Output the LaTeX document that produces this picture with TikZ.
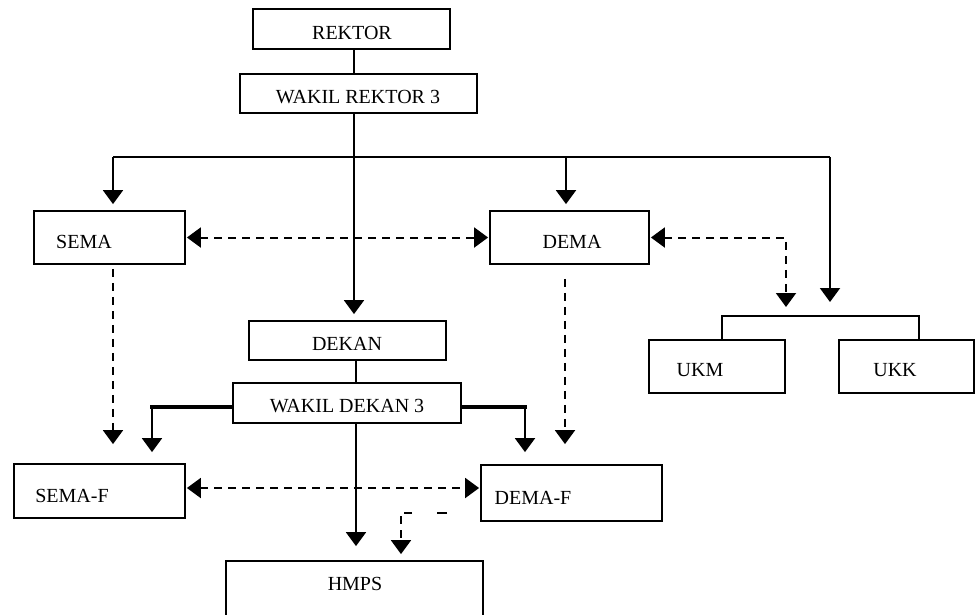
\documentclass[tikz,border=0pt]{standalone}
\usepackage{fontspec}
\setmainfont{Liberation Serif}
\usetikzlibrary{arrows.meta}
\begin{document}
\begin{tikzpicture}[x=1pt,y=-1pt,
  box/.style={draw, line width=1.8pt, inner sep=0pt},
  lbl/.style={inner sep=0pt, font=\fontsize{20}{23}\selectfont},
  conn/.style={line width=2pt},
  arr/.style={conn, -{Triangle[width=20pt,length=14pt]}},
  darr/.style={conn, dash pattern=on 8pt off 6pt},
  darrone/.style={darr, -{Triangle[width=20pt,length=14pt]}},
  darrtwo/.style={darr, {Triangle[width=20pt,length=14pt]}-{Triangle[width=20pt,length=14pt]}},
  thk/.style={line width=4pt, line cap=rect}]
\useasboundingbox (0,0) rectangle (975,614);

% boxes
\node[box, minimum width=197pt, minimum height=40pt] (rektor) at (351.5,29) {};
\node[box, minimum width=237pt, minimum height=39pt] (wr3) at (358.5,93.5) {};
\node[box, minimum width=151pt, minimum height=53pt] (sema) at (109.5,237.5) {};
\node[box, minimum width=159pt, minimum height=53pt] (dema) at (569.5,237.5) {};
\node[box, minimum width=136pt, minimum height=53pt] (ukm) at (717,366.5) {};
\node[box, minimum width=135pt, minimum height=53pt] (ukk) at (906.5,366.5) {};
\node[box, minimum width=197pt, minimum height=39pt] (dekan) at (347.5,340.5) {};
\node[box, minimum width=228pt, minimum height=40pt] (wd3) at (347,403) {};
\node[box, minimum width=171pt, minimum height=54pt] (semaf) at (99.5,491) {};
\node[box, minimum width=181pt, minimum height=56pt] (demaf) at (571.5,493) {};
\node[box, minimum width=257pt, minimum height=64pt] (hmps) at (354.5,593) {};

% texts
\node[lbl] (rektorT) at (352,33) {REKTOR};
\node[lbl] (wr3T) at (358,97.5) {WAKIL REKTOR 3};
\node[lbl] (semaT) at (84,242) {SEMA};
\node[lbl] (demaT) at (572,241.5) {DEMA};
\node[lbl] (ukmT) at (700,370.5) {UKM};
\node[lbl] (ukkT) at (895,370.5) {UKK};
\node[lbl] (dekanT) at (347,343.5) {DEKAN};
\node[lbl] (wd3T) at (347,406.5) {WAKIL DEKAN 3};
\node[lbl] (semafT) at (72,495.5) {SEMA-F};
\node[lbl] (demafT) at (533,497.5) {DEMA-F};
\node[lbl] (hmpsT) at (355,583.5) {HMPS};

% coordinates
\coordinate (trunk) at (354,157);
\coordinate (busL) at (113,157);
\coordinate (busD) at (566,157);
\coordinate (busR) at (830,157);
\coordinate (ukL) at (722,316);
\coordinate (ukR) at (919,316);
\coordinate (ukD) at (786,237.5);
\coordinate (demaDash) at (565,264);
\coordinate (fac) at (356,400);
\coordinate (wdL) at (152,407);
\coordinate (wdR) at (525,407);
\coordinate (fy) at (0,488);
\coordinate (ld1) at (447,513);
\coordinate (ld2) at (437,513);
\coordinate (el) at (412,513);
\coordinate (elc) at (401,513);

% solid connectors
\draw[conn] (rektor.south -| trunk) -- (wr3.north -| trunk);
\draw[arr, shorten >=6pt] (wr3.south -| trunk) -- (dekan.north -| trunk);
\draw[conn] (busL) -- (busR);
\draw[arr, shorten >=6pt] (busL) -- (sema.north -| busL);
\draw[arr, shorten >=6pt] (busD) -- (dema.north -| busD);
\draw[conn] (ukm.north -| ukL) -- (ukL) -- (ukR) -- (ukk.north -| ukR);
\draw[arr, shorten >=14pt] (busR) -- (busR |- ukL);
\draw[conn] (dekan.south -| fac) -- (wd3.north -| fac);
\draw[thk] (wd3.west |- wdL) -- (wdL);
\draw[arr, shorten >=11pt] (wdL) -- (semaf.north -| wdL);
\draw[thk] (wd3.east |- wdR) -- (wdR);
\draw[arr, shorten >=12pt] (wdR) -- (demaf.north -| wdR);
\draw[arr, shorten >=14pt] (wd3.south -| fac) -- (hmps.north -| fac);

% dashed connectors
\draw[darrtwo, shorten <=1pt, shorten >=1pt] (sema.east) -- (dema.west);
\draw[darrtwo, shorten <=1pt, shorten >=9pt] (dema.east) -- (ukD) -- (ukD |- ukL);
\draw[darrone, shorten <=4pt, shorten >=19pt] (sema.south -| busL) -- (semaf.north -| busL);
\draw[darrone, shorten <=14pt, shorten >=20pt] (dema.south -| demaDash) -- (demaf.north -| demaDash);
\draw[darrtwo, shorten <=1pt, shorten >=1pt] (semaf.east |- fy) -- (demaf.west |- fy);
\draw[conn] (ld1) -- (ld2);
\draw[darrone, shorten >=6pt] (el) -- (elc) -- (hmps.north -| elc);
\end{tikzpicture}
\end{document}
